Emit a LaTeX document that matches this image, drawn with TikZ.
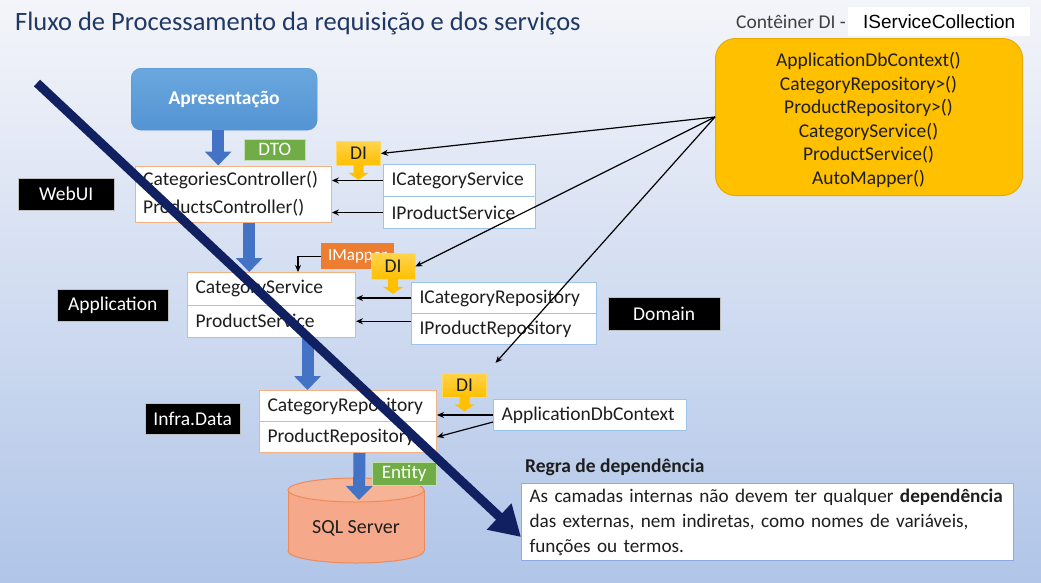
\documentclass[tikz,border=0pt]{standalone}
\usepackage{fontspec}
\setmainfont{Carlito}
\newfontfamily\arialf{Liberation Sans}
\usetikzlibrary{arrows.meta,calc,fit}
\definecolor{bgtop}{HTML}{F4F5FA}
\definecolor{bgbot}{HTML}{B0C5E8}
\definecolor{titlec}{HTML}{1F3864}
\definecolor{apresT}{HTML}{6AA7DF}
\definecolor{apresB}{HTML}{5494D3}
\definecolor{flowblue}{HTML}{4472C4}
\definecolor{dtogreen}{HTML}{70AD47}
\definecolor{diyellow}{HTML}{FFC000}
\definecolor{diedge}{HTML}{FFD966}
\definecolor{contedge}{HTML}{E6AA00}
\definecolor{mapperor}{HTML}{ED7D31}
\definecolor{implborder}{HTML}{F4B183}
\definecolor{ifaceborder}{HTML}{9DC3E6}
\definecolor{regraedge}{HTML}{8FAADC}
\definecolor{sqlfill}{HTML}{F5A98A}
\definecolor{sqltopc}{HTML}{F7B396}
\definecolor{sqlborder}{HTML}{EE8A5A}
\definecolor{navy}{HTML}{102060}
\definecolor{textc}{HTML}{1E1E1E}
\begin{document}
\begin{tikzpicture}[x=1pt,y=-1pt,
  txt/.style={font=\fontsize{19.5}{23.6}\selectfont},
  sz/.style n args={2}{minimum width=#1pt, minimum height=#2pt},
  lbl/.style={fill=black, draw=black!25, text=white, inner sep=0pt, anchor=north west, txt},
  rowbox/.style={fill=white, text=textc, inner xsep=8pt, inner ysep=0pt, anchor=north west, align=left, txt},
  impl/.style={rowbox, draw=implborder, line width=1pt},
  iface/.style={rowbox, draw=ifaceborder, line width=1pt},
  tagbox/.style={text=white, inner sep=0pt, anchor=north west, font=\fontsize{19}{22}\selectfont},
  dibox/.style={top color=diyellow!70!white, bottom color=diyellow, draw=diedge, line width=0.8pt, text=textc, inner sep=0pt, minimum width=44pt, minimum height=24pt, font=\fontsize{19.5}{22}\selectfont},
  ditip/.pic={\fill[diyellow] (-5,-1) -- (-5,7) -- (-10,7) -- (0,14) -- (10,7) -- (5,7) -- (5,-1) -- cycle;},
  dep/.style={draw=black, line width=1.2pt, -{Stealth[length=7pt,width=6pt]}},
  flow/.style={draw=flowblue, line width=12pt, -{Triangle[length=14pt,width=26pt]}},
]
% background
\shade[top color=bgtop, bottom color=bgbot] (0,0) rectangle (1041,582);
\useasboundingbox (0,0) rectangle (1041,582);

% title
\node[anchor=west, text=titlec, font=\fontsize{26.5}{31}\selectfont, inner sep=0pt] (title) at (15,24) {Fluxo de Processamento da requisição e dos serviços};

% container header and container
\node[anchor=west, text=textc!85, inner sep=0pt, txt] (conth) at (736,22) {Contêiner DI -};
\node[fill=white, anchor=north west, inner sep=0pt, sz={182}{29}, font=\arialf\fontsize{19}{23}\selectfont, text=black] (isc) at (848,7) {IServiceCollection};
\node[fill=diyellow, draw=contedge, line width=1pt, rounded corners=20pt, anchor=north west, sz={307}{157}, inner sep=0pt] (cont) at (715,38) {};
\node[align=center, text=textc, inner sep=0pt, txt] (contt) at (868.5,120)
  {ApplicationDbContext()\\CategoryRepository>()\\ProductRepository>()\\CategoryService()\\ProductService()\\AutoMapper()};

% presentation
\node[top color=apresT, bottom color=apresB, draw=apresB, rounded corners=10pt, anchor=north west, sz={186}{62}, inner sep=0pt, text=white, font=\bfseries\fontsize{19.5}{23}\selectfont] (apres) at (131,68) {Apresentação};

% layer labels
\node[lbl, sz={96}{32}] (webui) at (18,178) {WebUI};
\node[lbl, sz={111}{32}] (appl) at (57,289) {Application};
\node[lbl, sz={112}{33}] (domain) at (608,297) {Domain};
\node[lbl, sz={95}{31}] (infra) at (145,403) {Infra.Data};

% controllers
\node[rowbox, text width=180pt, minimum height=28pt] (ctrlA) at (135,166) {CategoriesController()};
\node[rowbox, text width=180pt, minimum height=28pt] (ctrlB) at (135,194) {ProductsController()};
\node[draw=implborder, line width=1pt, fit=(ctrlA)(ctrlB), inner sep=0pt] (ctrl) {};

\node[iface, text width=136pt, minimum height=32pt] (icat) at (383,164) {ICategoryService};
\node[iface, text width=136pt, minimum height=32pt] (iprod) at (383,196) {IProductService};

% services
\node[impl, text width=152pt, minimum height=32.5pt] (svcA) at (187,272) {CategoryService};
\node[impl, text width=152pt, minimum height=32.5pt] (svcB) at (187,304.5) {ProductService};

\node[iface, text width=169pt, minimum height=31pt] (icr) at (411,282) {ICategoryRepository};
\node[iface, text width=169pt, minimum height=31pt] (ipr) at (411,313) {IProductRepository};

% repositories
\node[impl, text width=161pt, minimum height=31pt] (repoA) at (259,390) {CategoryRepository};
\node[impl, text width=161pt, minimum height=31pt] (repoB) at (259,421) {ProductRepository};

\node[iface, text width=177pt, minimum height=31pt] (adb) at (493,399) {ApplicationDbContext};

% tags
\node[tagbox, fill=dtogreen, draw=white!60!dtogreen, sz={61}{21}] (dto) at (244,139) {DTO};
\node[tagbox, fill=mapperor, sz={73}{26}, font=\fontsize{17}{20}\selectfont] (imapper) at (321,243) {IMapper};
\draw[dep] (imapper.west) -| ([xshift=111pt]svcA.north west);

% DI callouts
\node[dibox] (di1) at (358.5,153.5) {DI};
\pic at (di1.south) {ditip};
\node[dibox, minimum height=26pt] (di2) at (393,266.5) {DI};
\pic at (di2.south) {ditip};
\node[dibox] (di3) at (464.5,385) {DI};
\pic at (di3.south) {ditip};

% dependency arrows
\draw[dep] (icat.west) -- (icat.west -| ctrl.east);
\draw[dep] (iprod.west) -- (iprod.west -| ctrl.east);
\draw[dep] (icr.west) -- (icr.west -| svcA.east);
\draw[dep] (svcB.east -| ipr.west) -- (svcB.east);
\draw[dep] (adb.west) -- (adb.west -| repoA.east);
\draw[dep] ([yshift=-7pt]adb.west) -- (repoB.east);
\draw[dep] (cont.west) -- (di1.east);
\draw[dep] (cont.west) -- (di2.east);
\draw[dep, shorten >=13pt] (cont.west) -- (di3.north east);

% database
\filldraw[fill=sqlfill, draw=sqlborder, line width=1pt] (356,551) ellipse [x radius=68pt, y radius=12pt];
\fill[sqlfill] (288,490) rectangle (424,551);
\draw[sqlborder, line width=1pt] (288,490) -- (288,551) (424,490) -- (424,551);
\filldraw[fill=sqltopc, draw=sqlborder, line width=1pt] (356,490) ellipse [x radius=68pt, y radius=12pt];
\node[text=textc, font=\fontsize{20}{24}\selectfont] (sql) at (356,528) {SQL Server};
\coordinate (sqltop) at (359,500);

% flow arrows
\draw[flow] ([xshift=-6pt]apres.south) -- ([xshift=-6pt]apres.south |- ctrl.north);
\draw[flow] ([xshift=16pt]ctrl.south) -- ([xshift=16pt]ctrl.south |- svcA.north);
\draw[flow] ([xshift=36pt]svcB.south) -- ([xshift=36pt]svcB.south |- repoA.north);
\draw[flow] ([xshift=11.5pt]repoB.south) -- (sqltop);
\node[tagbox, fill=dtogreen, draw=white!60!dtogreen, sz={64}{23}] (entity) at (372,462) {Entity};

% dependency rule
\node[anchor=west, inner sep=0pt, font=\bfseries\fontsize{19.5}{23}\selectfont, text=textc] (regrat) at (525,467) {Regra de dependência};
\node[draw=regraedge, line width=1pt, fill=white, anchor=north west, text width=476pt, inner xsep=8pt, inner ysep=4pt, minimum height=77pt, align=left, font=\fontsize{19.2}{25}\selectfont, text=textc] (regra) at (521,483)
  {As camadas internas não devem ter qualquer \textbf{dependência}\\das externas, nem indiretas, como nomes de variáveis,\\funções ou termos.};

% big direction arrow
\coordinate (bigS) at (37,83);
\coordinate (bigE) at (521,537);
\draw[navy, line width=9pt, -{Triangle[length=30pt,width=34pt]}] (bigS) -- (bigE);
\end{tikzpicture}
\end{document}
